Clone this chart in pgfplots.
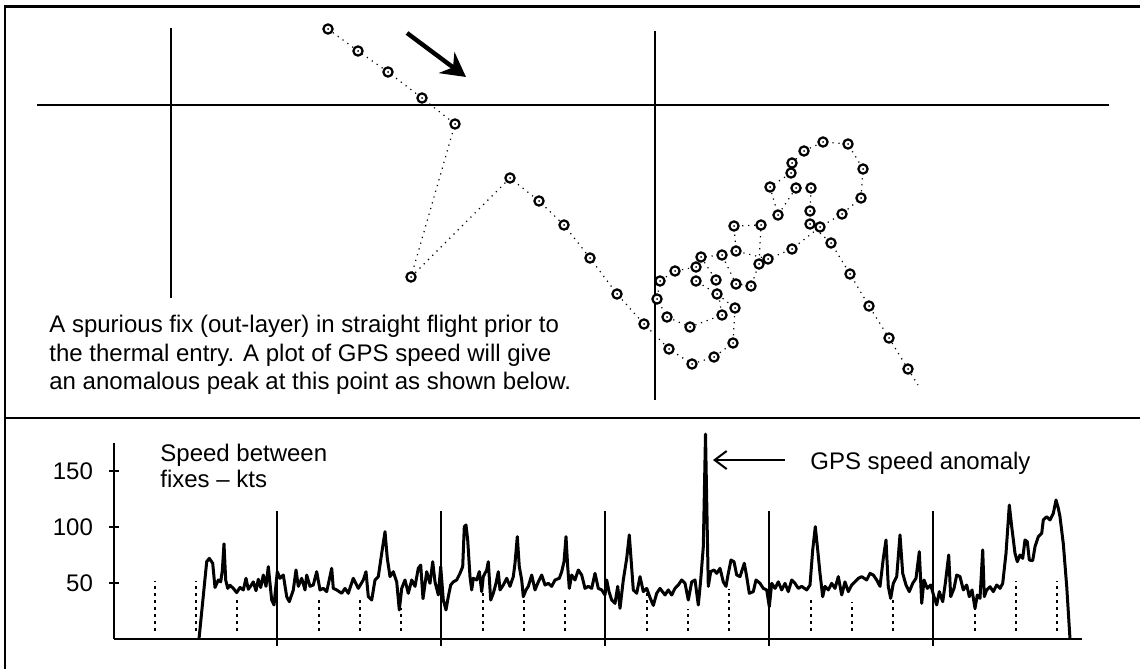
\documentclass[border=0pt]{standalone}
\usepackage{pgfplots}
\pgfplotsset{compat=1.18}
\usepackage{fontspec}
\setmainfont{Liberation Sans}
\usetikzlibrary{arrows.meta}
\newcommand{\fsz}{\fontsize{12}{14}\selectfont}
\pgfdeclareplotmark{ringdot}{%
  \pgfsetfillcolor{white}\pgfpathcircle{\pgfpointorigin}{\pgfplotmarksize}\pgfusepathqfillstroke
  \pgfsetfillcolor{black}\pgfpathcircle{\pgfpointorigin}{0.5pt}\pgfusepathqfill}

% speed between fixes (x: time units, y: kts)
\pgfplotstableread{
x v
85 0
92.7 69
95.3 72
98.7 67.6
101 46
104.3 52.7
106.7 51
108.3 61
110 85
111.7 52.7
113.7 45.2
116 48
119.3 45.2
122.7 41.4
126 46
129.3 43.8
132 54.2
134.3 44.4
136.7 47.3
139.3 51
142 43.1
144.3 53.3
146.7 46
149.3 57.1
152 47
154.3 64.6
157.7 34.8
160 30.4
163.3 60.1
166 54.2
169.3 57.1
172.7 37.8
175.3 33.3
179.3 43.8
182 61.6
184.3 47
187.7 54.2
191 43.8
192.7 57.1
196 47
199.3 48.2
202.7 60.1
206 43.8
209.3 45.2
212.7 42.3
217.7 63.1
219.3 45.2
222.7 43.8
227.7 40.8
231 45.2
234.3 40.8
239.3 54.2
244.3 45.2
249.3 52.7
252 60.1
254.3 37.8
257.7 34.8
261 52.7
264.3 55.7
267.7 76.5
271 95.8
273.3 72
276 55.7
279.3 60.1
282.7 51
285.3 25.9
287.7 45.2
291 52.7
294.3 40.8
297.7 52.7
301 47
304.3 63.1
306.7 66
309 36
312.7 60.1
316 49.7
318.7 69
321 51
324.3 39.3
326.7 64.6
329.3 34.8
332 25.9
334.3 37.8
336.7 48.2
339.3 51
342.7 52.7
346 58.6
348.7 64.6
350.3 100.3
352 101.8
353.7 88.4
356 55.7
357.7 43.8
359.3 54.2
362.7 52.7
365.3 60.1
367.7 42.3
369.3 55.7
372.7 61.6
374.3 69
376.7 34.8
379.3 40.8
382 49.7
384.3 60.1
386 43.8
389.3 48.2
392.7 54.2
396 47
399.3 55.7
401 67.6
403.3 91.4
405.3 64.6
407.7 52.7
409.3 37.8
412 43.8
414.3 47
417.7 57.1
421 43.8
424.3 51
427.7 57.1
431 48.2
434.3 49.7
437.7 47
441 52.7
445.3 54.2
447.7 60.1
450 69
452 91.4
453.7 64.6
455.3 45.2
457.7 57.1
461 52.7
464.3 61.6
467.7 57.1
471 45.2
474.3 47
477.7 45.2
481 58.6
484.3 45.2
487.7 43.8
491 39.3
492.7 52.7
495 42.3
497.7 34.8
501 31.8
503.7 47
506 27.4
509.3 52.7
512.7 72
515.3 92.9
517 72
519.3 43.8
522.7 40.8
526 55.7
529.3 42.3
532.7 45.2
536 37
539.3 30
542.7 40.8
546 45.2
551 39.3
554.3 43.8
557.7 39.3
561 45.2
564.3 48.2
567.7 52.7
571 49.7
574.3 34.8
577.7 51
581 52.7
584.3 30.4
586.7 52.7
589.3 82.4
591.5 183
593.3 94.3
594.3 47
596.7 60.1
600 61.6
602.7 58.6
606 63.1
609.3 51
612 47
614.3 58.6
617 70.5
620 69
622.7 57.1
626 55.7
630.3 67.6
632.7 55.7
635.3 40.8
639.3 42.3
642 52.7
646 49.7
649.3 45.2
652.7 43.8
655.3 28.9
657.7 49.7
661 45.2
664.3 51
667.7 43.8
671 49.7
674.3 42.3
677.7 52.7
681 49.7
684.3 45.2
687.7 47
692.7 43.8
696 48.2
698.7 79.5
701.3 100.3
703.7 79.5
706 58.6
708.7 37.8
711 47
714.3 43.8
717.7 49.7
721 45.2
724.3 55.7
727.7 39.3
731 51
734.3 42.3
737.7 48.2
741 51
744.3 54.2
747.7 55.7
752.7 52.7
756 58.6
759.3 57.1
762.7 52.7
766 47
769.3 72
772 88.4
774.3 46.7
776.7 36.3
779.3 49.7
782.7 55.7
786 92.9
788.7 58.6
792 48.2
795.3 42.3
798.7 49.7
802 54.2
805.3 78
807.7 31.8
810 52.7
813.3 45.2
816.7 48.2
820 37.8
822.7 30.4
825.3 42.3
828.7 33.3
831.3 49.7
834.7 75
836.7 37.8
840 45.2
842.7 57.1
846 55.7
849.3 43.8
852.7 48.2
855.3 37.8
858 43.8
861 27.4
863.3 39.3
866 36.3
868.7 79.5
870.3 37.8
872.7 43.8
876 46.7
879.3 42.3
882.7 48.2
886 45.2
888.7 49.7
892 76.5
895.3 119.6
897.7 100.3
901 76.5
903.3 69
906 75
908.7 72
911 88.4
913.3 86.9
915.3 70.5
918.7 70
921 82.4
924.3 91.4
927.7 94.3
929.3 106.3
932.7 109.2
936 106.3
939.3 112.2
942 124.1
944.3 116.7
946 109
949.3 85
952.7 47
956 0
}\speed

\begin{document}
\begin{tikzpicture}
% ---- top panel: GPS track (screen coordinates) ----
\begin{axis}[at={(0,0)}, anchor=south west, scale only axis,
  width=570pt, height=334.5pt,
  xmin=0, xmax=1140, ymin=0, ymax=669, y dir=reverse,
  hide axis, clip=false]
  \draw[line width=1.3pt] (axis cs:5,669) -- (axis cs:5,6.5) -- (axis cs:1140,6.5);
  \draw[line width=1.3pt] (axis cs:5,418) -- (axis cs:1140,418);
  \addplot[black, line width=0.7pt] coordinates {(37,105) (1109,105)};
  \addplot[black, line width=0.7pt] coordinates {(171,28) (171,298)};
  \addplot[black, line width=0.7pt] coordinates {(655,31) (655,400)};
  \addplot[black, line width=0.6pt, dash pattern=on 0.6pt off 2.4pt]
    coordinates {(908,369) (918,385)};
  \addplot[black, line width=0.6pt, dash pattern=on 0.6pt off 2.4pt,
    mark=ringdot, mark size=2.3pt,
    mark options={solid, line width=1.1pt}] coordinates {
    (328,29) (358,51) (388,72) (422,98) (455,124) (411,277) (510,178)
    (539,201) (564,225) (590,258) (617,294) (644,324)
    (669,349) (692,364) (714,357) (733,343) (735,308)
    (717,294) (696,281) (696,267) (675,271) (660,281) (657,299)
    (667,317) (690,327) (722,315)
    (716,280) (701,257) (722,255) (736,284) (751,286) (759,264)
    (761,225) (734,226) (736,251) (768,259) (792,249)
    (820,227) (842,214) (861,198) (863,169) (848,144) (823,142)
    (804,151) (792,163) (791,173) (770,187) (778,215) (796,188)
    (811,188) (810,211) (810,224)
    (831,243) (850,274) (869,306) (889,338) (908,369)
  };
  \draw[line width=2.2pt, -{Stealth[length=12pt,width=13pt]}]
    (axis cs:407,33) -- (axis cs:466,77);
  \node[anchor=base west, inner sep=0, font=\fsz] at (axis cs:49,332.7)
    {A spurious fix (out-layer) in straight flight prior to};
  \node[anchor=base west, inner sep=0, font=\fsz] at (axis cs:49,361)
    {the thermal entry. A plot of GPS speed will give};
  \node[anchor=base west, inner sep=0, font=\fsz] at (axis cs:49,389)
    {an anomalous peak at this point as shown below.};
\end{axis}
% ---- bottom panel: speed between fixes ----
\begin{axis}[at={(57pt,15pt)}, anchor=south west, scale only axis,
  width=484pt, height=98pt,
  xmin=0, xmax=968, ymin=0, ymax=175,
  axis lines=left, axis line style={line width=1.2pt, -},
  xtick=\empty, ytick={50,100,150},
  tick align=center, major tick length=5pt,
  tick style={line width=1pt, black},
  tick label style={font=\fsz},
  yticklabel style={xshift=-4.5pt},
  /pgf/number format/assume math mode=true,
  unbounded coords=jump,
  clip=false]
  \addplot[black, line width=0.6pt] coordinates {
    (163,-6.3) (163,114.3) (nan,nan) (327,-6.3) (327,114.3) (nan,nan)
    (491,-6.3) (491,114.3) (nan,nan) (655,-6.3) (655,114.3) (nan,nan)
    (819,-6.3) (819,114.3)};
  \addplot[black, line width=1pt, dash pattern=on 1.5pt off 2pt] coordinates {
    (41,7) (41,52) (nan,nan) (82,7) (82,52) (nan,nan) (123,7) (123,36) (nan,nan)
    (205,7) (205,36) (nan,nan) (246,7) (246,35) (nan,nan) (287,7) (287,28) (nan,nan)
    (369,7) (369,42) (nan,nan) (410,7) (410,35) (nan,nan) (451,7) (451,35) (nan,nan)
    (533,7) (533,45) (nan,nan) (574,7) (574,27) (nan,nan) (615,7) (615,45) (nan,nan)
    (697,7) (697,35) (nan,nan) (738,7) (738,33) (nan,nan) (779,7) (779,35) (nan,nan)
    (861,7) (861,27) (nan,nan) (902,7) (902,52) (nan,nan) (943,7) (943,52)};
  \addplot[black, line width=1.5pt, line join=round] table[x=x, y=v] {\speed};
  \draw[line width=1pt, {Straight Barb[length=6pt,width=9pt]}-]
    (axis cs:599,159.8) -- (axis cs:671,159.8);
  \node[anchor=base west, inner sep=0, font=\fsz] at (axis cs:696,150.9) {GPS speed anomaly};
  \node[anchor=base west, inner sep=0, font=\fsz] at (axis cs:46,158.3) {Speed between};
  \node[anchor=base west, inner sep=0, font=\fsz] at (axis cs:46,135.7) {fixes -- kts};
\end{axis}
\pgfresetboundingbox
\path (0,0) rectangle (570pt,334.5pt);
\end{tikzpicture}
\end{document}
